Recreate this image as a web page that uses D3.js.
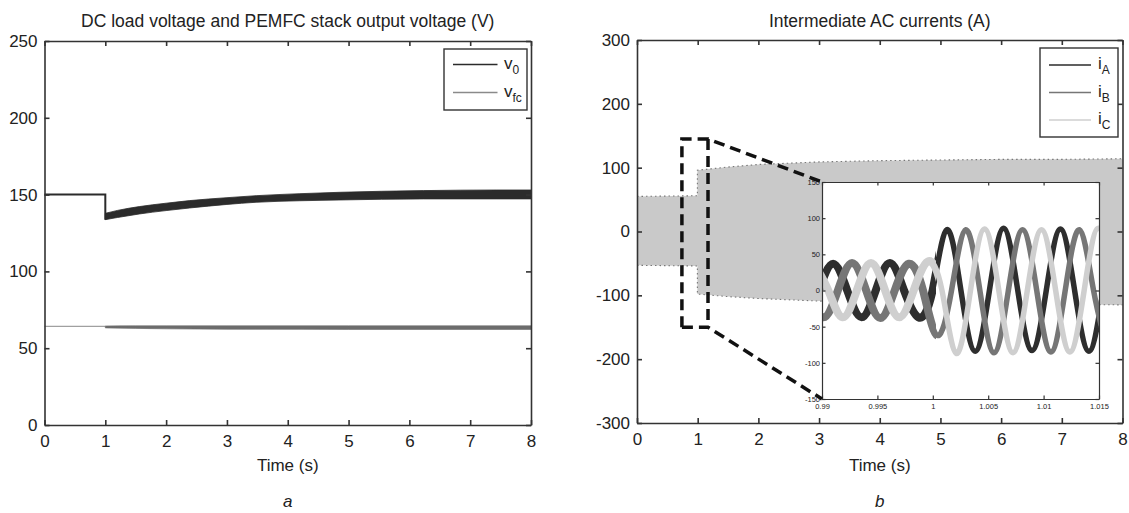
<!DOCTYPE html>
<html>
<head>
<meta charset="utf-8">
<script src="https://cdn.jsdelivr.net/npm/d3@7"></script>
<style>
  body { margin: 0; background: #fff; }
  svg { display: block; font-family: "Liberation Sans", Arial, Helvetica, sans-serif; }
</style>
</head>
<body>
<svg id="chart"></svg>
<script>
// ---- values ----
const timeTicks = [0, 1, 2, 3, 4, 5, 6, 7, 8];
const voltTicks = [0, 50, 100, 150, 200, 250];
const currTicks = [-300, -200, -100, 0, 100, 200, 300];
const zoomTimeTicks = [0.99, 0.995, 1, 1.005, 1.01, 1.015];
const zoomCurrTicks = [-150, -100, -50, 0, 50, 100, 150];

// (a) v0 : flat before the load step, ripple band after it
const v0PreT = [0, 1];
const v0PreV = [150, 150];
const v0BandT = [1, 1.2, 1.56, 2, 2.39, 3, 3.48, 4.2, 4.86, 6.23, 7.44, 8];
const v0BandHi = [137.8, 139.7, 142.2, 144.4, 146.1, 148.0, 149.3, 150.6, 151.5, 152.6, 153.0, 153.0];
const v0BandLo = [133.7, 135.1, 137.4, 139.6, 141.3, 143.6, 145.0, 146.0, 146.5, 147.2, 147.2, 147.2];

// (a) vfc
const vfcPreT = [0, 1];
const vfcPreV = [64.2, 64.2];
const vfcBandT = [1, 1.5, 2, 3, 5, 8];
const vfcBandHi = [64.5, 64.6, 64.6, 64.6, 64.6, 64.6];
const vfcBandLo = [63.2, 62.9, 62.6, 62.3, 62.2, 62.2];

// (b) envelope of the three overlapping phase currents
const envT = [0, 0.995, 0.995, 1.5, 2, 2.5, 3, 4, 5, 6, 7, 8];
const envHi = [55, 56, 96, 101, 105, 107, 109, 111, 112, 113, 113, 114];
const envLo = [-53, -54, -98, -102, -105, -107, -109, -111, -112, -113, -114, -115];

// (b) zoom window in main axes
const boxT = [0.74, 1.17];
const boxV = [-150, 145];

// (b) inset: peaks, troughs and zero crossings of each phase
const iaT = [0.98972, 0.99100, 0.99228, 0.99357, 0.99485, 0.99613, 0.99741, 0.99870, 0.99998, 1.00126, 1.00254,
             1.00383, 1.00511, 1.00639, 1.00767, 1.00896, 1.01024, 1.01152, 1.01280, 1.01409, 1.01537];
const iaV = [0, 37, 0, -37, 0, 38, 0, -37, 0, 84, 0, -84, 0, 86, 0, -83, 0, 85, 0, -84, 0];
const ibT = [0.98886, 0.99014, 0.99143, 0.99271, 0.99399, 0.99527, 0.99656, 0.99784, 0.99912, 1.00040, 1.00169,
             1.00297, 1.00425, 1.00553, 1.00682, 1.00810, 1.00938, 1.01066, 1.01195, 1.01323, 1.01451, 1.01579];
const ibV = [0, -37, 0, 38, 0, -38, 0, 37, 0, -62, 0, 84, 0, -86, 0, 84, 0, -85, 0, 84, 0, -84];
const icT = [0.98929, 0.99057, 0.99185, 0.99314, 0.99442, 0.99570, 0.99698, 0.99827, 0.99955, 1.00083, 1.00211,
             1.00340, 1.00468, 1.00596, 1.00724, 1.00853, 1.00981, 1.01109, 1.01237, 1.01366, 1.01494, 1.01622];
const icV = [37, 0, -37, 0, 38, 0, -37, 0, 40, 0, -87, 0, 85, 0, -86, 0, 84, 0, -85, 0, 86, 0];
const stepTime = 1.0003;  // ripple is much heavier before the load step

const legendA = [{label: "v", sub: "0", color: "#2b2b2b"}, {label: "v", sub: "fc", color: "#8a8a8a"}];
const legendB = [{label: "i", sub: "A", color: "#2b2b2b"}, {label: "i", sub: "B", color: "#767676"}, {label: "i", sub: "C", color: "#cfcfcf"}];

// ---- drawing ----
const W = 1129, H = 513;
const AXIS = "#333";
const FS = 17;
const svg = d3.select("#chart").attr("width", W).attr("height", H);
svg.append("rect").attr("width", W).attr("height", H).attr("fill", "#fff");
const defs = svg.append("defs");

// box axes with inward ticks on all four sides, like matlab
function frame(g, x, y, xt, yt, o) {
    const fmt = d => String(d);
    const axes = [
        g.append("g").attr("transform", `translate(0,${y.range()[0]})`)
            .call(d3.axisBottom(x).tickValues(xt).tickSizeInner(-o.tick).tickSizeOuter(0).tickPadding(o.padX).tickFormat(fmt)),
        g.append("g").attr("transform", `translate(0,${y.range()[1]})`)
            .call(d3.axisTop(x).tickValues(xt).tickSizeInner(-o.tick).tickSizeOuter(0).tickFormat("")),
        g.append("g").attr("transform", `translate(${x.range()[0]},0)`)
            .call(d3.axisLeft(y).tickValues(yt).tickSizeInner(-o.tick).tickSizeOuter(0).tickPadding(o.padY).tickFormat(fmt)),
        g.append("g").attr("transform", `translate(${x.range()[1]},0)`)
            .call(d3.axisRight(y).tickValues(yt).tickSizeInner(-o.tick).tickSizeOuter(0).tickFormat(""))
    ];
    axes.forEach(a => a.attr("font-family", null).attr("font-size", null));
    g.selectAll(".domain, .tick line").attr("stroke", AXIS).attr("stroke-width", o.sw);
    g.selectAll(".tick text").attr("fill", "#222").attr("font-size", o.fs);
}

function legend(g, items, box) {
    g.append("rect")
        .attr("x", box.x).attr("y", box.y).attr("width", box.w).attr("height", box.h)
        .attr("fill", "#fff").attr("stroke", AXIS).attr("stroke-width", 1.4);
    const row = g.selectAll("g.row").data(items).enter().append("g")
        .attr("transform", (d, i) => `translate(0,${box.y + box.first + i * box.step})`);
    row.append("line")
        .attr("x1", box.x + 9).attr("x2", box.x + 9 + box.line)
        .attr("stroke", d => d.color).attr("stroke-width", 1.6);
    const t = row.append("text").attr("x", box.x + box.textX).attr("y", 4)
        .attr("font-size", 17).attr("fill", "#222");
    t.append("tspan").text(d => d.label);
    t.append("tspan").attr("dy", 5).attr("font-size", 12).text(d => d.sub);
}

function caption(cx, title, letter) {
    svg.append("text").attr("x", cx).attr("y", 27).attr("text-anchor", "middle")
        .attr("font-size", 17.5).attr("fill", "#222").text(title);
    svg.append("text").attr("x", cx).attr("y", 471).attr("text-anchor", "middle")
        .attr("font-size", FS).attr("fill", "#222").text("Time (s)");
    svg.append("text").attr("x", cx).attr("y", 507).attr("text-anchor", "middle")
        .attr("font-size", FS).attr("font-style", "italic").attr("fill", "#222").text(letter);
}

// ---------- panel a ----------
const xA = d3.scaleLinear().domain([0, 8]).range([44.5, 531]);
const yA = d3.scaleLinear().domain([0, 250]).range([425, 41]);
const gA = svg.append("g");

const lineA = d3.line().x(d => xA(d[0])).y(d => yA(d[1]));
const bandA = d3.area().x(d => xA(d[0])).y0(d => yA(d[2])).y1(d => yA(d[1])).curve(d3.curveMonotoneX);

gA.append("path").datum(vfcPreT.map((t, i) => [t, vfcPreV[i]]))
    .attr("d", lineA).attr("fill", "none").attr("stroke", "#a0a0a0").attr("stroke-width", 1.2);
gA.append("path").datum(vfcBandT.map((t, i) => [t, vfcBandHi[i], vfcBandLo[i]]))
    .attr("d", bandA).attr("fill", "#6c6c6c").attr("stroke", "#6c6c6c").attr("stroke-width", 0.6);

gA.append("path").datum(v0PreT.map((t, i) => [t, v0PreV[i]]).concat([[1, v0BandLo[0]]]))
    .attr("d", lineA).attr("fill", "none").attr("stroke", "#2b2b2b").attr("stroke-width", 2);
gA.append("path").datum(v0BandT.map((t, i) => [t, v0BandHi[i], v0BandLo[i]]))
    .attr("d", bandA).attr("fill", "#2b2b2b").attr("stroke", "#2b2b2b").attr("stroke-width", 0.8);

frame(gA, xA, yA, timeTicks, voltTicks, {tick: 5, padX: 10, padY: 7, fs: FS, sw: 1.6});
legend(gA, legendA, {x: 444, y: 49, w: 83, h: 61, first: 15.5, step: 28, line: 44.5, textX: 60});
caption((44.5 + 531) / 2, "DC load voltage and PEMFC stack output voltage (V)", "a");

// ---------- panel b ----------
const xB = d3.scaleLinear().domain([0, 8]).range([637, 1122.5]);
const yB = d3.scaleLinear().domain([-300, 300]).range([423, 40]);
const gB = svg.append("g");

const env = envT.map((t, i) => [t, envHi[i], envLo[i]]);
gB.append("path").datum(env)
    .attr("d", d3.area().x(d => xB(d[0])).y0(d => yB(d[2])).y1(d => yB(d[1])))
    .attr("fill", "#c9c9c9");
// dark specks along the envelope edges
[1, 2].forEach(k => {
    gB.append("path").datum(env)
        .attr("d", d3.line().x(d => xB(d[0])).y(d => yB(d[k])))
        .attr("fill", "none").attr("stroke", "#777").attr("stroke-width", 1.1)
        .attr("stroke-dasharray", "1.5,3");
});

frame(gB, xB, yB, timeTicks, currTicks, {tick: 5, padX: 10, padY: 7, fs: FS, sw: 1.6});

// inset
const xZ = d3.scaleLinear().domain([0.99, 1.015]).range([822, 1099]);
const yZ = d3.scaleLinear().domain([-150, 150]).range([399, 182]);
const gZ = gB.append("g");
const zx0 = xZ.range()[0], zx1 = xZ.range()[1], zy0 = yZ.range()[1], zy1 = yZ.range()[0];
gZ.append("rect").attr("x", zx0).attr("y", zy0)
    .attr("width", zx1 - zx0).attr("height", zy1 - zy0).attr("fill", "#fff");
defs.append("clipPath").attr("id", "clipPre").append("rect")
    .attr("x", zx0).attr("y", zy0).attr("width", xZ(stepTime) - zx0).attr("height", zy1 - zy0);
defs.append("clipPath").attr("id", "clipPost").append("rect")
    .attr("x", xZ(stepTime)).attr("y", zy0).attr("width", zx1 - xZ(stepTime)).attr("height", zy1 - zy0);

const wave = d3.line().x(d => xZ(d[0])).y(d => yZ(d[1])).curve(d3.curveNatural);
const phases = [
    {t: iaT, v: iaV, color: "#2e2e2e"},
    {t: ibT, v: ibV, color: "#767676"},
    {t: icT, v: icV, color: "#cfcfcf"}
];
[["clipPre", 8], ["clipPost", 5.5]].forEach(([clip, w]) => {
    gZ.append("g").attr("clip-path", `url(#${clip})`)
        .selectAll("path").data(phases).enter().append("path")
        .attr("d", d => wave(d.t.map((t, i) => [t, d.v[i]])))
        .attr("fill", "none").attr("stroke", d => d.color).attr("stroke-width", w)
        .attr("stroke-linejoin", "round");
});

frame(gZ, xZ, yZ, zoomTimeTicks, zoomCurrTicks, {tick: 3.5, padX: 5, padY: 2, fs: 7.5, sw: 1.2});

// dashed zoom window and connectors
const bx0 = xB(boxT[0]), bx1 = xB(boxT[1]), by0 = yB(boxV[1]), by1 = yB(boxV[0]);
const zPath = d3.path();
zPath.moveTo(bx0, by1); zPath.lineTo(bx0, by0); zPath.lineTo(bx1, by0);
zPath.lineTo(zx0, zy0);
zPath.moveTo(bx1, by0); zPath.lineTo(bx1, by1);
zPath.moveTo(bx0, by1); zPath.lineTo(bx1, by1);
zPath.lineTo(zx0, zy1);
gB.append("path").attr("d", zPath.toString())
    .attr("fill", "none").attr("stroke", "#111").attr("stroke-width", 3.5)
    .attr("stroke-dasharray", "11,6");

legend(gB, legendB, {x: 1040, y: 48, w: 78, h: 89, first: 17, step: 27.5, line: 42, textX: 58});
caption((637 + 1122.5) / 2, "Intermediate AC currents (A)", "b");
</script>
</body>
</html>
